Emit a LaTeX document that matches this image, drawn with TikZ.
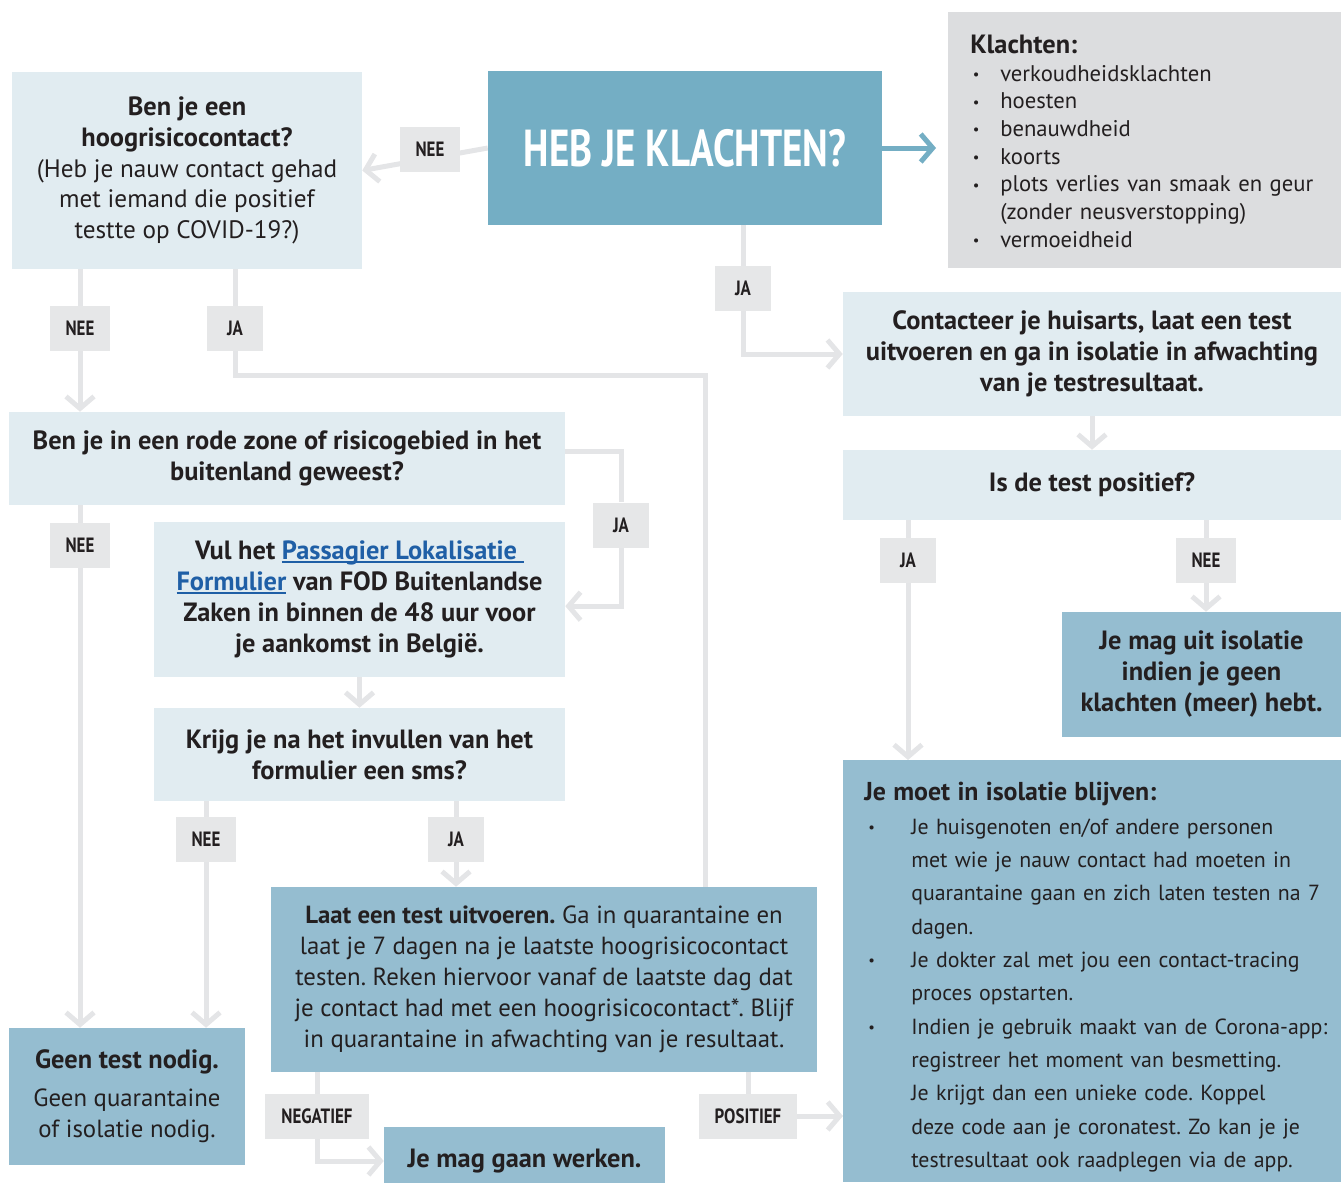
\documentclass[tikz,border=0pt]{standalone}
\usepackage{fontspec}
\setmainfont{PT Sans}
\newfontfamily\condfont[FakeStretch=0.82]{PT Sans}
\newfontfamily\headfont[FakeStretch=0.75]{PT Sans}
\usetikzlibrary{arrows.meta, backgrounds}
\frenchspacing
\definecolor{paleblue}{HTML}{E1ECF1}
\definecolor{midblue}{HTML}{95BDD0}
\definecolor{headblue}{HTML}{74AEC4}
\definecolor{panelgrey}{HTML}{DCDDDF}
\definecolor{taggrey}{HTML}{E6E7E8}
\definecolor{linegrey}{HTML}{E4E5E7}
\definecolor{inkdark}{HTML}{231F20}
\definecolor{linkblue}{HTML}{1F5FA6}
\newcommand\titlefont{\bfseries\fontsize{19.8}{23.25}\selectfont}
\newcommand\bodyfont{\fontsize{18.9}{23.1}\selectfont}
\newcommand\testfont{\fontsize{18.6}{23.25}\selectfont}
\newcommand\listfont{\fontsize{17}{20.8}\selectfont}
\newcommand\dotmark{\raisebox{1.2pt}{\fontsize{11}{11}\selectfont\textbullet}}
\newcommand\linkul[1]{\textcolor{linkblue}{\setbox0\hbox{#1}\rlap{\rule[-2.2pt]{\wd0}{0.9pt}}\box0}}
\tikzstyle{palebox} = [rectangle, fill=paleblue, text=inkdark,
align=center, inner sep=0pt, font=\titlefont]
\tikzstyle{midbox} = [rectangle, fill=midblue, text=inkdark,
align=center, inner sep=0pt, font=\titlefont]
\tikzstyle{headbox} = [rectangle, fill=headblue, text=white,
inner sep=0pt, font=\headfont\bfseries\fontsize{39}{39}\selectfont]
\tikzstyle{tagbox} = [rectangle, fill=taggrey, text=inkdark,
minimum width=42pt, minimum height=33.75pt, inner xsep=12pt,
font=\condfont\bfseries\fontsize{15.5}{15.5}\selectfont]
\tikzstyle{arrow} = [line width=3.75pt, draw=linegrey,
-{Straight Barb[length=9pt,width=21pt]}]
\tikzstyle{wire} = [line width=3.75pt, draw=linegrey]

\begin{document}
\begin{tikzpicture}[x=0.75pt, y=-0.75pt]
\useasboundingbox (0,0) rectangle (1341,1182);
% top row
\node (klachten) [headbox, minimum width=295.5pt, minimum height=115.5pt] at (685,148) {HEB JE KLACHTEN?};
\node (hoog) [palebox, font=\bodyfont, minimum width=262.5pt, minimum height=147.75pt] at (187,170.5)
  {{\titlefont Ben je een}\\ {\titlefont hoogrisicocontact?}\\ (Heb je nauw contact gehad\\ met iemand die positief\\ testte op COVID-19?)};
\node (lijst) [anchor=north west, fill=panelgrey, text=inkdark, font=\listfont, align=left,
  inner xsep=16.5pt, inner ysep=0pt, text width=261.75pt, text height=30.75pt, text depth=161.25pt] at (948,12)
  {\begin{tabular}[t]{@{\hspace{2pt}}p{20.5pt}@{}l@{}}
   \multicolumn{2}{@{}l@{}}{\titlefont Klachten:}\\
   \dotmark & verkoudheidsklachten\\
   \dotmark & hoesten\\
   \dotmark & benauwdheid\\
   \dotmark & koorts\\
   \dotmark & plots verlies van smaak en geur\\
            & (zonder neusverstopping)\\
   \dotmark & vermoeidheid
   \end{tabular}};
% right column
\node (contact) [palebox, minimum width=373.5pt, minimum height=93pt] at (1092,354)
  {Contacteer je huisarts, laat een test\\ uitvoeren en ga in isolatie in afwachting\\ van je testresultaat.};
\node (positief) [palebox, minimum width=373.5pt, minimum height=52.5pt] at (1092,485) {Is de test positief?};
\node (uit) [midbox, minimum width=209.25pt, minimum height=93.75pt] at (1201.5,674.5)
  {Je mag uit isolatie\\ indien je geen\\ klachten (meer) hebt.};
\node (blijven) [anchor=north west, fill=midblue, text=inkdark, font=\fontsize{16.4}{20.8}\selectfont, align=left,
  inner xsep=15.75pt, inner ysep=0pt, text width=342pt, text height=30pt, text depth=286.5pt] at (843,760)
  {\begin{tabular}[t]{@{\hspace{3pt}}p{32.25pt}@{}l@{}}
   \multicolumn{2}{@{}l@{}}{\bfseries\fontsize{19.4}{20}\selectfont Je moet in isolatie blijven:}\\[4.5pt]
   \dotmark & Je huisgenoten en/of andere personen\\[4.2pt]
            & met wie je nauw contact had moeten in\\[4.2pt]
            & quarantaine gaan en zich laten testen na 7\\[4.2pt]
            & dagen.\\[4.2pt]
   \dotmark & Je dokter zal met jou een contact-tracing\\[4.2pt]
            & proces opstarten.\\[4.2pt]
   \dotmark & Indien je gebruik maakt van de Corona-app:\\[4.2pt]
            & registreer het moment van besmetting.\\[4.2pt]
            & Je krijgt dan een unieke code. Koppel\\[4.2pt]
            & deze code aan je coronatest. Zo kan je je\\[4.2pt]
            & testresultaat ook raadplegen via de app.
   \end{tabular}};
% left column
\node (rode) [palebox, minimum width=417pt, minimum height=69.75pt] at (287,458.5)
  {Ben je in een rode zone of risicogebied in het\\ buitenland geweest?};
\node (plf) [palebox, minimum width=308.25pt, minimum height=116.25pt] at (359.5,599.5)
  {Vul het \linkul{Passagier Lokalisatie\ }\\ \linkul{Formulier} van FOD Buitenlandse\\ Zaken in binnen de 48 uur voor\\ je aankomst in België.};
\node (sms) [palebox, minimum width=308.25pt, minimum height=69.75pt] at (359.5,754.5)
  {Krijg je na het invullen van het\\ formulier een sms?};
\node (test) [midbox, font=\testfont, minimum width=409.5pt, minimum height=138.75pt] at (544,979.5)
  {\textbf{Laat een test uitvoeren.} Ga in quarantaine en\\ laat je 7 dagen na je laatste hoogrisicocontact\\ testen. Reken hiervoor vanaf de laatste dag dat\\ je contact had met een hoogrisicocontact*. Blijf\\ in quarantaine in afwachting van je resultaat.};
\node (geen) [midbox, font=\testfont, minimum width=177pt, minimum height=102.75pt] at (127,1096.5)
  {{\titlefont Geen test nodig.}\\[5pt] Geen quarantaine\\ of isolatie nodig.};
\node (werken) [midbox, minimum width=210.75pt, minimum height=51pt] at (524.5,1161)
  {Je mag gaan werken.};
% answer tags
\node (tnee1) [tagbox] at (430,149) {NEE};
\node (tja1) [tagbox] at (743,288) {JA};
\node (tnee2) [tagbox] at (80,328) {NEE};
\node (tja2) [tagbox] at (235,328) {JA};
\node (tja3) [tagbox] at (621,525) {JA};
\node (tnee3) [tagbox] at (80,545) {NEE};
\node (tja4) [tagbox] at (908,560) {JA};
\node (tnee4) [tagbox] at (1206,560) {NEE};
\node (tnee5) [tagbox] at (206,839) {NEE};
\node (tja5) [tagbox] at (456,839) {JA};
\node (tneg) [tagbox] at (317,1116) {NEGATIEF};
\node (tpos) [tagbox] at (748,1116) {POSITIEF};
\coordinate (bendA) at (705,375);
% connectors
\begin{scope}[on background layer]
\draw [arrow] (klachten.west) -- (hoog.east);
\draw [line width=3.75pt, draw=headblue, -{Straight Barb[length=9pt,width=21pt]}, shorten >=9pt] (klachten.east) -- (klachten.east -| lijst.west);
\draw [arrow] (klachten.south -| tja1) |- (contact.west);
\draw [arrow] (hoog.south -| tnee2) -- (rode.north -| tnee2);
\draw [wire] (hoog.south -| tja2) |- (bendA) -- (test.north -| bendA);
\draw [arrow] ([yshift=5pt]rode.east) -| (tja3) |- ([yshift=-5pt]plf.east);
\draw [arrow] (rode.south -| tnee3) -- (geen.north -| tnee3);
\draw [arrow] (plf.south) -- (sms.north);
\draw [arrow] (sms.south -| tnee5) -- (geen.north -| tnee5);
\draw [arrow] (sms.south -| tja5) -- (test.north -| tja5);
\draw [arrow] (contact.south) -- (positief.north);
\draw [arrow] (positief.south -| tja4) -- (blijven.north -| tja4);
\draw [arrow] (positief.south -| tnee4) -- (uit.north -| tnee4);
\draw [arrow] (test.south -| tneg) |- (werken.west);
\draw [arrow] (test.south -| tpos) |- (blijven.west |- tpos);
\end{scope}
\end{tikzpicture}
\end{document}
